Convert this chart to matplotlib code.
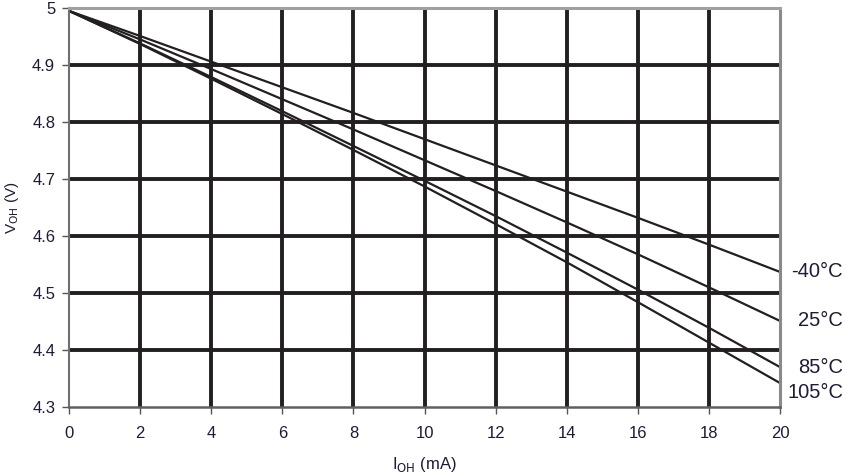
import matplotlib
matplotlib.use("Agg")
import matplotlib.pyplot as plt

# output-high voltage vs output current, per temperature
I_OH = [0, 2, 4, 6, 8, 10, 12, 14, 16, 18, 20]
V_M40 = [4.995, 4.951, 4.906, 4.861, 4.816, 4.770, 4.724, 4.678, 4.632, 4.585, 4.537]
V_25 = [4.995, 4.945, 4.893, 4.840, 4.787, 4.733, 4.679, 4.624, 4.568, 4.510, 4.451]
V_85 = [4.995, 4.938, 4.879, 4.819, 4.758, 4.697, 4.635, 4.571, 4.506, 4.439, 4.370]
V_105 = [4.995, 4.937, 4.876, 4.814, 4.751, 4.687, 4.621, 4.554, 4.484, 4.413, 4.342]
SERIES = [("-40°C", V_M40), ("25°C", V_25), ("85°C", V_85), ("105°C", V_105)]
X_TICKS = list(range(0, 21, 2))
Y_TICKS = [4.3, 4.4, 4.5, 4.6, 4.7, 4.8, 4.9, 5.0]
Y_TICK_LABELS = ["4.3", "4.4", "4.5", "4.6", "4.7", "4.8", "4.9", "5"]

plt.rcParams["font.family"] = ["Liberation Sans", "DejaVu Sans"]
TXT = "#1c1c38"
INK = "#231f20"

fig = plt.figure(figsize=(8.46, 4.76), dpi=100)
ax = fig.add_axes([0.0816, 0.145, 0.8404, 0.838])

for x in X_TICKS[1:-1]:
    ax.axvline(x, color=INK, lw=2.8, zorder=1)
for y in Y_TICKS[1:-1]:
    ax.axhline(y, color=INK, lw=2.8, zorder=1)

for name, v in SERIES:
    ax.plot(I_OH, v, color=INK, lw=1.6, zorder=3)

# labels right-aligned near the figure edge, at each curve's end
offs = {"-40°C": 0.0, "25°C": 0.0, "85°C": 0.0, "105°C": -0.016}
lab_tr = ax.get_yaxis_transform()
for name, v in SERIES:
    ax.text(1.0886, v[-1] + offs[name], name, transform=lab_tr,
            ha="right", va="center", fontsize=14.5, color=TXT, clip_on=False)

ax.set_xlim(0, 20)
ax.set_ylim(4.3, 5.0)
ax.set_xticks(X_TICKS)
ax.set_yticks(Y_TICKS)
ax.set_yticklabels(Y_TICK_LABELS)
ax.tick_params(axis="both", direction="out", length=5, width=1.0, color="#555555",
               labelsize=12, labelcolor=TXT)
ax.tick_params(axis="x", pad=9)
ax.tick_params(axis="y", pad=5)

for s in ax.spines.values():
    s.set_color("#8a8a8a")
    s.set_linewidth(2.2)
    s.set_zorder(4)
ax.spines["left"].set_color("#707070")
ax.spines["left"].set_linewidth(1.5)
ax.spines["bottom"].set_color("#606060")
ax.spines["bottom"].set_linewidth(1.8)
ax.spines["top"].set_color("#a0a0a0")

ax.set_xlabel("I$_{\\rm OH}$ (mA)", fontsize=12, color=TXT, labelpad=10)
ax.set_ylabel("V$_{\\rm OH}$ (V)", fontsize=11, color=TXT, labelpad=8)

fig.savefig("out.png", dpi=100)
